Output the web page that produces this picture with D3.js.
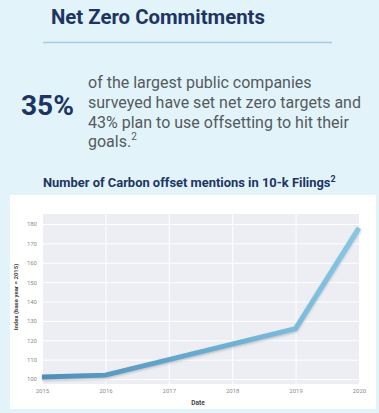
<!DOCTYPE html>
<html><head><meta charset="utf-8">
<script src="https://cdn.jsdelivr.net/npm/d3@7"></script>
<style>
html,body{margin:0;padding:0;background:#e2f4fa;}
svg{display:block;}
</style></head>
<body>
<svg id="c" width="379" height="413"></svg>
<script>
const years = [2015, 2016, 2017, 2018, 2019, 2020];
const indexValues = [101, 102, 110, 118, 126, 178];
const yTicks = [100, 110, 120, 130, 140, 150, 160, 170, 180];
const titleText = "Net Zero Commitments";
const statText = "35%";
const paragraphLines = ["of the largest public companies", "surveyed have set net zero targets and", "43% plan to use offsetting to hit their", "goals."];
const chartTitle = "Number of Carbon offset mentions in 10-k Filings";
const yAxisLabel = "Index (base year = 2015)";
const xAxisLabel = "Date";

const svg = d3.select("#c");
const navy = "#1e3563";
const font = "Roboto, 'DejaVu Sans', sans-serif";

function fitWidth(sel, w) {
  const n = sel.node();
  const cur = n.getComputedTextLength();
  const fs = parseFloat(sel.attr("font-size"));
  sel.attr("font-size", fs * w / cur);
}

svg.append("rect").attr("width", 379).attr("height", 413).attr("fill", "#e2f4fa");

// Title
const t = svg.append("text").attr("x", 51).attr("y", 24).attr("font-family", font)
  .attr("font-weight", 700).attr("font-size", 20).attr("fill", navy).text(titleText);
fitWidth(t, 214);
svg.append("line").attr("x1", 43).attr("x2", 332).attr("y1", 42.5).attr("y2", 42.5)
  .attr("stroke", "#a9cae6").attr("stroke-width", 1.5);

// Big stat
const s = svg.append("text").attr("x", 21).attr("y", 115).attr("font-family", font)
  .attr("font-weight", 700).attr("font-size", 25).attr("fill", navy).text(statText);
fitWidth(s, 53);

// Paragraph
const pBase = [88, 108, 128, 147];
paragraphLines.forEach((ln, i) => {
  const tx = svg.append("text").attr("x", 88).attr("y", pBase[i]).attr("font-family", font)
    .attr("font-size", 16).attr("fill", "#555a5e").text(ln);
  if (i === 3) tx.append("tspan").attr("font-size", 10).attr("dy", -7).text("2");
});
const p2 = svg.selectAll("text").filter(function(){ return d3.select(this).text() === paragraphLines[1]; });
{
  const w = p2.node().getComputedTextLength();
  const fs = 16 * 273 / w;
  svg.selectAll("text").filter(function(){ return paragraphLines.some(l => d3.select(this).text().startsWith(l)); })
    .attr("font-size", fs);
}

// Chart title
const ct = svg.append("text").attr("x", 43).attr("y", 187).attr("font-family", font)
  .attr("font-weight", 700).attr("font-size", 13).attr("fill", navy).text(chartTitle);
ct.append("tspan").attr("font-size", 9).attr("dy", -5).text("2");
{
  const w = ct.node().getComputedTextLength();
  ct.attr("font-size", 13 * 293 / w);
}

// Chart panel
svg.append("rect").attr("x", 10).attr("y", 195).attr("width", 366).attr("height", 214).attr("fill", "#ffffff");

const x = d3.scaleLinear().domain([2015, 2020]).range([42, 359]);
const y = d3.scaleLinear().domain([100, 180]).range([379, 224]);
const plotTop = 214, plotBottom = 384;

svg.append("rect").attr("x", 42).attr("y", plotTop).attr("width", 317).attr("height", plotBottom - plotTop).attr("fill", "#eceef3");

const gy = svg.append("g").attr("transform", "translate(42,0)")
  .call(d3.axisLeft(y).tickValues(yTicks).tickSize(-317).tickPadding(5));
const gx = svg.append("g").attr("transform", `translate(0,${plotBottom})`)
  .call(d3.axisBottom(x).tickValues(years).tickFormat(d3.format("d")).tickSize(-(plotBottom - plotTop)).tickPadding(5));
[gy, gx].forEach(g => {
  g.select(".domain").remove();
  g.selectAll(".tick line").attr("stroke", "#ffffff").attr("stroke-width", 1);
  g.selectAll(".tick text").attr("fill", "#8a8d94").attr("font-family", font).attr("font-size", 6);
});

// Gradient + shadow
const defs = svg.append("defs");
const grad = defs.append("linearGradient").attr("id", "lg").attr("gradientUnits", "userSpaceOnUse")
  .attr("x1", x(2015)).attr("x2", x(2020)).attr("y1", 0).attr("y2", 0);
grad.append("stop").attr("offset", "0%").attr("stop-color", "#4d8fb8");
grad.append("stop").attr("offset", "100%").attr("stop-color", "#86c7e4");
const f = defs.append("filter").attr("id", "sh").attr("x", "-10%").attr("y", "-10%").attr("width", "120%").attr("height", "130%");
f.append("feDropShadow").attr("dx", 0).attr("dy", 1.5).attr("stdDeviation", 1.2).attr("flood-color", "#9aa3ad").attr("flood-opacity", 0.6);

const data = years.map((yr, i) => ({ yr, v: indexValues[i] }));
svg.append("path").datum(data)
  .attr("d", d3.line().x(d => x(d.yr)).y(d => y(d.v)))
  .attr("fill", "none").attr("stroke", "url(#lg)").attr("stroke-width", 5)
  .attr("stroke-linejoin", "miter").attr("filter", "url(#sh)");

// Axis labels
svg.append("text").attr("x", 198).attr("y", 405).attr("text-anchor", "middle")
  .attr("font-family", font).attr("font-weight", 700).attr("font-size", 6.5).attr("fill", "#444").text(xAxisLabel);
svg.append("text").attr("transform", "translate(18,297) rotate(-90)").attr("text-anchor", "middle")
  .attr("font-family", font).attr("font-weight", 700).attr("font-size", 6).attr("fill", "#444").text(yAxisLabel);
</script>
</body></html>
